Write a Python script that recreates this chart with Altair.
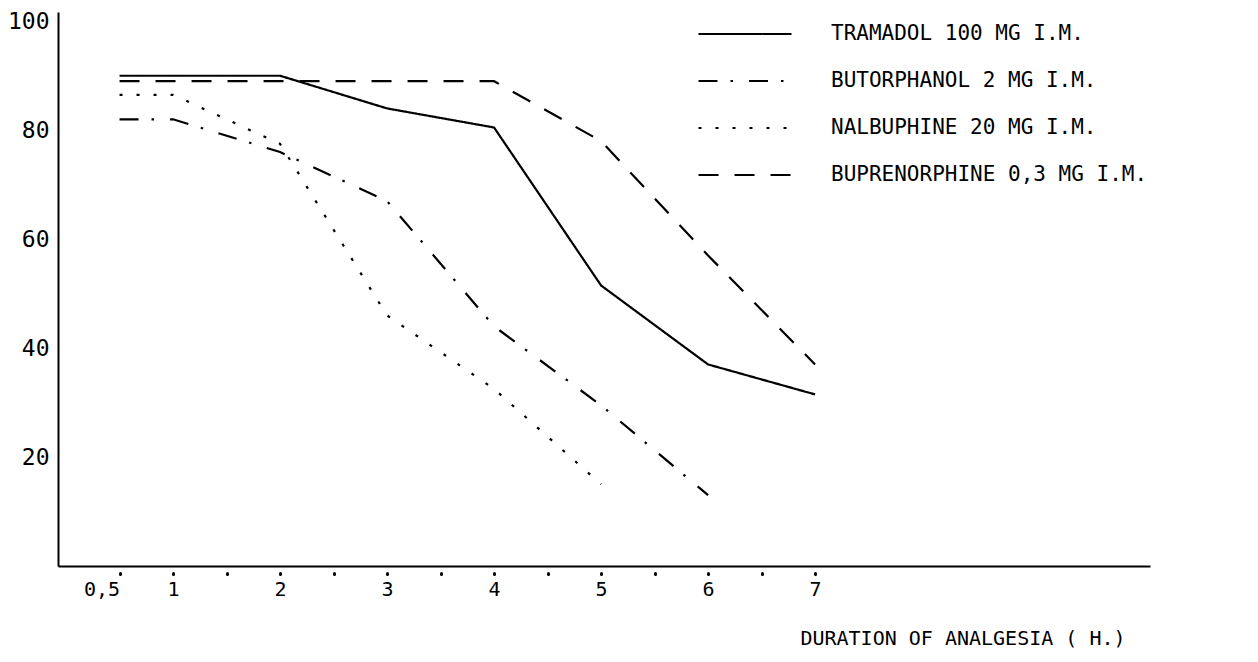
import altair as alt
import pandas as pd

FONT = "DejaVu Sans Mono"

hours = [0.5, 1, 2, 3, 4, 5, 6, 7]
tramadol = [90, 90, 90, 84, 80.5, 51.5, 37, 31.5]
butorphanol = [82, 82, 76, 67, 44, 29.5, 13]
nalbuphine = [86.5, 86.5, 77.5, 46, 32.5, 15]
buprenorphine = [89, 89, 89, 89, 89, 78, 57, 37]

series_names = [
    "TRAMADOL 100 MG I.M.",
    "BUTORPHANOL 2 MG I.M.",
    "NALBUPHINE 20 MG I.M.",
    "BUPRENORPHINE 0,3 MG I.M.",
]
series_values = [tramadol, butorphanol, nalbuphine, buprenorphine]
dash_patterns = [[1, 0], [19, 13, 2.5, 16], [3, 14], [20, 16]]
stroke_widths = [2.2, 2.2, 3.5, 2.2]

x_tick_values = [0.5, 1, 1.5, 2, 2.5, 3, 3.5, 4, 4.5, 5, 5.5, 6, 6.5, 7]
y_tick_values = [20, 40, 60, 80, 100]

rows = []
for name, vals in zip(series_names, series_values):
    for h, v in zip(hours, vals):
        rows.append({"drug": name, "hours": h, "pct": v})
df = pd.DataFrame(rows)

x_axis = alt.Axis(
    values=x_tick_values,
    labelExpr="datum.value == 0.5 ? '0,5' : (datum.value % 1 == 0 ? '' + datum.value : '')",
    labelAlign={"condition": {"test": "datum.value == 0.5", "value": "right"}, "value": "center"},
    labelFont=FONT, labelFontSize=20, labelColor="black", labelPadding=3,
    labelFlush=False, labelOverlap=False,
    tickSize=10, tickDash=[1, 100], tickDashOffset=-7, tickCap="round",
    tickWidth=3, tickColor="black",
    domainColor="black", domainWidth=2, grid=False,
    title="DURATION OF ANALGESIA ( H.)",
    titleFont=FONT, titleFontSize=20, titleFontWeight="normal", titleColor="black",
    titleX=1067, titleY=72, titleAlign="right", titleBaseline="middle", titleAnchor="end",
)

y_axis = alt.Axis(
    values=y_tick_values, ticks=False, grid=False,
    labelFont=FONT, labelFontSize=23, labelColor="black", labelPadding=9,
    labelFlush=False, labelOverlap=False,
    domainColor="black", domainWidth=2, title=None,
)

legend = alt.Legend(
    title=None, orient="none", legendX=639, legendY=10, direction="vertical",
    symbolType="stroke", symbolSize=8649, symbolStrokeWidth=2, clipHeight=24,
    symbolStrokeColor="black", labelFont=FONT, labelFontSize=21,
    labelColor="black", labelOffset=38, rowPadding=23, padding=0, labelLimit=600,
)

chart = (
    alt.Chart(df)
    .mark_line(color="black", clip=False)
    .encode(
        x=alt.X("hours:Q", scale=alt.Scale(domain=[-0.075, 10.13], nice=False, zero=False), axis=x_axis),
        y=alt.Y("pct:Q", scale=alt.Scale(domain=[0, 101.7], nice=False), axis=y_axis),
        strokeDash=alt.StrokeDash(
            "drug:N",
            scale=alt.Scale(domain=series_names, range=dash_patterns),
            legend=legend,
        ),
        strokeWidth=alt.StrokeWidth(
            "drug:N",
            scale=alt.Scale(domain=series_names, range=stroke_widths),
            legend=None,
        ),
        detail="drug:N",
    )
    .properties(
        width=1092, height=554,
        autosize=alt.AutoSizeParams(type="none"),
        padding={"left": 50, "top": 4, "right": 90, "bottom": 86},
        background="white",
    )
    .configure_view(stroke=None)
)

chart.save("out.html", embed_options={"renderer": "svg", "actions": False})
